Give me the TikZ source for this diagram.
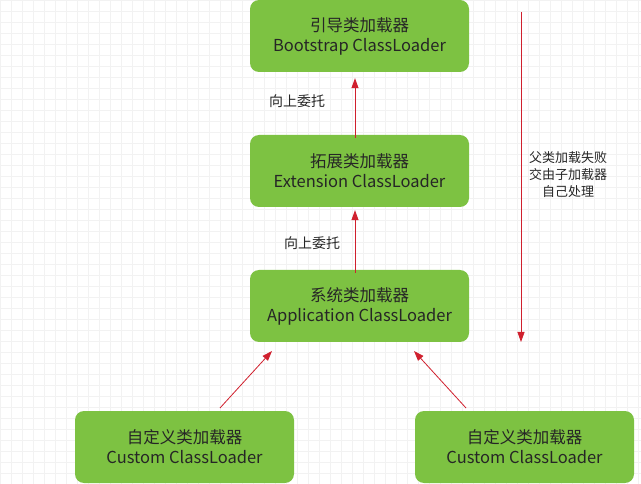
\documentclass[tikz,border=0pt]{standalone}
\usepackage{fontspec}
\setmainfont{Noto Sans CJK SC}
\usetikzlibrary{arrows.meta}
\definecolor{boxg}{HTML}{7DC242}
\definecolor{arr}{HTML}{D0202E}
\begin{document}
\begin{tikzpicture}[x=1pt,y=-1pt,
  box/.style={fill=boxg,rounded corners=9pt,minimum width=219pt,minimum height=72pt,align=center,font=\fontsize{16.5}{20}\selectfont,text=black!85,inner sep=0pt},
  conn/.style={draw=arr,line width=0.8pt,-{Triangle[length=10pt,width=7pt]}},
  lab/.style={font=\fontsize{14}{17}\selectfont,text=black!85,align=center}]
\useasboundingbox (0,0) rectangle (641,484);
\fill[white] (0,0) rectangle (641,484);
\draw[black!5,step=11pt] (0,0) grid (641,484);
\node[box] (boot) at (359.5,36) {引导类加载器\\Bootstrap ClassLoader};
\node[box] (ext) at (359.5,171) {拓展类加载器\\Extension ClassLoader};
\node[box] (app) at (359.5,306) {系统类加载器\\Application ClassLoader};
\node[box] (c1) at (184.5,447) {自定义类加载器\\Custom ClassLoader};
\node[box] (c2) at (524.5,447) {自定义类加载器\\Custom ClassLoader};
\draw[conn] ([xshift=-4.5pt,yshift=-3pt]ext.north) -- ([xshift=-4.5pt,yshift=-6pt]boot.south);
\draw[conn] ([xshift=-4.5pt,yshift=-3pt]app.north) -- ([xshift=-4.5pt,yshift=-3pt]ext.south);
\node[lab] (l1) at (297,101) {向上委托};
\node[lab] (l2) at (312,243) {向上委托};
\coordinate (a1) at (220,408); \coordinate (b1) at (272,351);
\coordinate (a2) at (466,408); \coordinate (b2) at (414,351);
\draw[conn] (a1) -- (b1);
\draw[conn] (a2) -- (b2);
\coordinate (t) at (521,12); \coordinate (d) at (521,342);
\draw[conn] (t) -- (d);
\node[lab,font=\fontsize{13}{17}\selectfont] (l3) at (568,175) {父类加载失败\\交由子加载器\\自己处理};
\end{tikzpicture}
\end{document}
